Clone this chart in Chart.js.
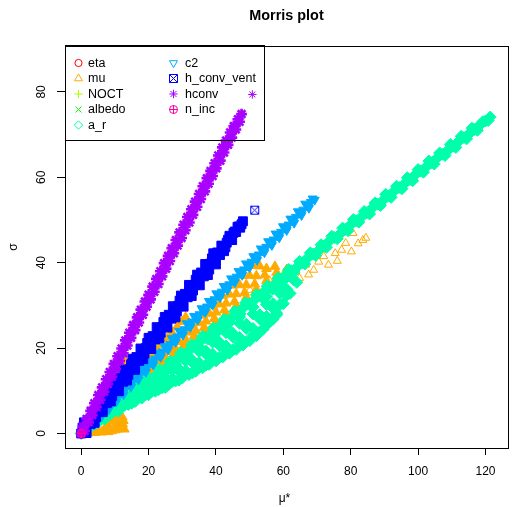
<!DOCTYPE html>
<html>
<head>
<meta charset="utf-8">
<script src="https://cdn.jsdelivr.net/npm/chart.js@4/dist/chart.umd.min.js"></script>
<style>
html, body { margin: 0; padding: 0; background: #fff; }
</style>
</head>
<body>
<canvas id="morrisChart" width="512" height="507"></canvas>
<script>
// series (same order as the R legend)
const seriesNames = ['eta', 'mu', 'NOCT', 'albedo', 'a_r', 'c2', 'h_conv_vent', 'hconv', 'n_inc'];
const seriesColors = ['#FF0000', '#FFAA00', '#AAFF00', '#00FF00', '#00FFAA', '#00AAFF', '#0000FF', '#AA00FF', '#FF00AA'];
const xTicks = [0, 20, 40, 60, 80, 100, 120];
const yTicks = [0, 20, 40, 60, 80];

// mu* / sigma values (dense clouds and the loose points around them)
const etaPts = [[0.2, 0.1], [0.5, 0.3], [0.8, 0.4], [1.1, 0.6]];
const muCloud = [
  [1, 0.2], [2, 0.1], [3, 0.3], [4, 0.2], [5, 0.4], [6, 0.3], [7, 0.5], [8, 0.4], [9, 0.6], [10, 0.8], [11, 1.0],
  [11.8, 1.5], [12.3, 2.2], [12.5, 3.0], [12.2, 3.8], [11.5, 4.3], [10.8, 4.6], [10, 4.0], [9, 3.0], [8, 2.0],
  [10.5, 2.5], [11.5, 2.0], [7, 1.2], [12.8, 1.0],
  [6, 6.8], [7.5, 8.8], [9, 10.8], [10.5, 12.7], [11.5, 14.5], [12.5, 15.6], [13.5, 16.5], [14.5, 16.0], [13, 13.5],
  [9, 12.6], [10, 14.2], [11.5, 15.8], [12.8, 16.9],
  [15, 13.3], [16.5, 14.5], [18, 15.8], [19.5, 17.0], [21, 18.3], [22.5, 19.6], [24, 20.8], [25.5, 22.2], [27, 23.6],
  [28.5, 25.0], [30, 26.2], [31, 27.2],
  [20, 14.8], [23, 17.0], [26, 19.2], [29, 21.5], [32, 23.7], [35, 25.9], [38, 28.1], [41, 30.3], [44, 32.6],
  [47, 34.8], [50, 37.0], [53, 39.2],
  [21.5, 14.6], [24.5, 16.7], [27.5, 18.7], [30.5, 20.7], [33.5, 22.8], [36.5, 24.8], [39.5, 26.9], [42.5, 28.9],
  [45.5, 30.9], [48.5, 33.0], [51.5, 35.0], [54.5, 37.1], [57.5, 39.1],
  [40, 25.2], [43, 27.1], [46, 29.0], [49, 30.9], [52, 32.8], [55, 34.6], [58, 36.5], [61, 38.4],
  [22, 15.6], [25, 17.8], [28, 19.9], [31, 22.0], [34, 24.1], [37, 26.3], [40, 28.4], [43, 30.5], [46, 32.7],
  [49, 34.8], [52, 36.9], [55, 38.6],
  [25, 16.3], [28, 18.2], [31, 20.2], [34, 22.1], [37, 24.1], [40, 26.0], [43, 28.0], [46, 29.9], [49, 31.9],
  [52, 33.8], [55, 35.8], [58, 37.7],
  [18, 13.9], [21, 16.2], [24, 18.5], [27, 20.8], [30, 23.1], [33, 25.4], [36, 27.7], [39, 30.0], [42, 32.3],
  [45, 34.7], [48, 37.0], [51, 39.3]
];
const muLoose = [
  [50.1, 33.6], [54.0, 32.8], [55.9, 35.9], [61.8, 36.7], [63.7, 37.9], [66.6, 39.5], [69.0, 38.3], [70.5, 40.2],
  [73.4, 39.5], [75.4, 42.2], [77.3, 43.0], [80.2, 42.6], [82.2, 44.5], [83.6, 45.3], [80.7, 46.9], [84.5, 45.8],
  [72.0, 41.5], [78.5, 44.6], [67.5, 37.2], [64.8, 36.4], [58.5, 35.2], [76.0, 40.4]
];
const noctPts = [[0, 0], [2, 1.5], [4, 2.9], [6, 4.4], [8, 5.8], [10, 7.3], [12, 8.8], [14, 10.2], [16, 11.7], [17.5, 12.8], [19, 13.9]];
const albedoPts = [[0.3, 0.2], [1, 0.7], [2, 1.3], [3, 2]];
const arPts = [
  [0, 0], [1.5, 1.2], [3, 1.8], [4.5, 3.2], [6, 3.7], [7.5, 5.1], [9, 5.5], [10.5, 7.0], [12, 7.4], [13.5, 8.9],
  [15, 9.2], [16.5, 10.8], [18, 11.1], [19, 12.5],
  [4, 2.2], [6, 3.4], [8, 4.6], [10, 5.7], [12, 6.3], [14, 6.8], [16, 7.5], [18, 8.3], [20, 9.1], [22, 9.9],
  [24, 10.7], [26, 11.5], [28, 12.3], [30, 13.0], [32, 13.8], [34, 14.6], [36, 15.4], [38, 16.2], [40, 17.0],
  [42, 17.9], [44, 18.8], [46, 19.7], [48, 20.7], [50, 21.7], [52, 22.9], [54, 24.4], [56, 26.2], [58, 28.2],
  [60, 30.4], [62, 32.8],
  [9, 4.8], [13, 6.7], [17, 8.6], [21, 10.6], [25, 12.6], [29, 14.6], [33, 16.6], [37, 18.6], [41, 20.6],
  [45, 22.6], [49, 24.6], [53, 26.8], [57, 29.3], [61, 32.4], [64, 35.4],
  [11, 6.1], [15, 8.3], [19, 10.5], [23, 12.6], [27, 14.8], [31, 17.0], [35, 19.2], [39, 21.4], [43, 23.6],
  [47, 25.8], [51, 28.0], [55, 30.2], [59, 32.8], [63, 36.0],
  [23, 10.3], [27, 12.2], [31, 14.0], [35, 15.8], [39, 17.6], [43, 19.4], [47, 21.2], [51, 23.0], [55, 25.4],
  [58, 27.8],
  [7, 3.4], [11, 5.2], [15, 7.1], [19, 9.0], [23, 10.9], [27, 12.8], [31, 14.7], [35, 16.6], [39, 18.6], [43, 20.5],
  [47, 22.5], [51, 24.6], [55, 27.4], [59, 30.2],
  [5, 2.6], [9, 4.7], [13, 6.8], [17, 8.9], [21, 11.0], [25, 13.0], [29, 15.1], [33, 17.2], [37, 19.3], [41, 21.4],
  [45, 23.5], [49, 25.6], [53, 27.8], [57, 30.4], [61, 33.8],
  [3, 1.7], [7, 4.1], [11, 6.4], [15, 8.7], [19, 11.0], [23, 13.4], [27, 15.7], [31, 18.0], [35, 20.3], [39, 22.6],
  [43, 25.0], [47, 27.3], [51, 29.6], [55, 32.0], [59, 34.4],
  [25, 10.8], [29, 12.5], [33, 14.2], [37, 16.0], [41, 17.8], [45, 19.6], [49, 21.5], [53, 23.8], [57, 26.8],
  [20.0, 13.0], [21.6, 12.4], [23.2, 15.0], [24.8, 14.3], [26.4, 16.9], [28.0, 16.3], [29.6, 18.9], [31.2, 18.2],
  [32.8, 20.8], [34.4, 20.2], [36.0, 22.8], [37.6, 22.1], [39.2, 24.7], [40.8, 24.1], [42.4, 26.7], [44.0, 26.0],
  [45.6, 28.6], [47.2, 28.0], [48.8, 30.6], [50.4, 29.9], [52.0, 32.5], [53.6, 31.9], [55.2, 34.5], [56.8, 33.8],
  [58.4, 36.4], [60.0, 35.8], [61.6, 38.4], [63.2, 37.8], [64.8, 40.3], [66.4, 39.7], [68.0, 42.3], [69.6, 41.7],
  [71.2, 44.2], [72.8, 43.6], [74.4, 46.2], [76.0, 45.6], [77.6, 48.1], [79.2, 47.5], [80.8, 50.1], [82.4, 49.5],
  [84.0, 52.0], [85.6, 51.4], [87.2, 54.0], [88.8, 53.4], [90.4, 56.0], [92.0, 55.3], [93.6, 57.9], [95.2, 57.3],
  [96.8, 59.9], [98.4, 59.2], [100.0, 61.8], [101.6, 61.2], [103.2, 63.8], [104.8, 63.1], [106.4, 65.7], [108.0, 65.1],
  [109.6, 67.7], [111.2, 67.0], [112.8, 69.6], [114.4, 69.0], [116.0, 71.5], [117.6, 71.0], [119.2, 73.0], [120.8, 73.3],
  [121.4, 74.1],
  [20.8, 12.7], [22.4, 13.8], [24.0, 14.6], [25.6, 15.5], [27.2, 16.6], [28.8, 17.7], [30.4, 18.5], [32.0, 19.4],
  [33.6, 20.5], [35.2, 21.6], [36.8, 22.4], [38.4, 23.3], [40.0, 24.4], [41.6, 25.5], [43.2, 26.4], [44.8, 27.2],
  [46.4, 28.3], [48.0, 29.4], [49.6, 30.3], [51.2, 31.1], [52.8, 32.2], [54.4, 33.3], [56.0, 34.2], [57.6, 35.0],
  [59.2, 36.1], [60.8, 37.2], [62.4, 38.1], [64.0, 38.9], [65.6, 40.0], [67.2, 41.1], [68.8, 42.0], [70.4, 42.8],
  [72.0, 43.9], [73.6, 45.0], [75.2, 45.9], [76.8, 46.7], [78.4, 47.8], [80.0, 48.9], [81.6, 49.8], [83.2, 50.7],
  [84.8, 51.7], [86.4, 52.8], [88.0, 53.7], [89.6, 54.6], [91.2, 55.6], [92.8, 56.7], [94.4, 57.6], [96.0, 58.5],
  [97.6, 59.5], [99.2, 60.6], [100.8, 61.5], [102.4, 62.4], [104.0, 63.4], [105.6, 64.5], [107.2, 65.4], [108.8, 66.3],
  [110.4, 67.3], [112.0, 68.4], [113.6, 69.3], [115.2, 70.2], [116.8, 71.2], [118.4, 72.3], [120.0, 73.2]
];
const c2Pts = [
  [0, 0], [0.5, 1.3], [1.6, 0.4], [2.7, 3.0], [3.8, 2.1], [4.9, 4.8], [6.0, 3.9], [7.1, 6.5], [8.2, 5.6], [9.3, 8.3],
  [10.4, 7.4], [11.5, 10.0], [12.6, 9.1], [13.7, 11.8], [14.8, 10.9], [15.9, 13.5], [17.0, 12.6], [18.1, 15.3],
  [19.2, 14.4], [20.3, 17.0], [21.4, 16.1], [22.5, 18.8], [23.6, 17.9], [24.7, 20.5], [25.8, 19.6], [26.9, 22.3],
  [28.0, 21.4], [29.1, 24.0], [30.2, 23.1], [31.3, 25.8], [32.4, 24.9], [33.5, 27.5], [34.6, 26.6], [35.7, 29.3],
  [36.8, 28.4], [37.9, 31.0], [39.0, 30.1], [40.1, 32.8], [41.2, 31.9], [42.3, 34.5], [43.4, 33.6], [44.5, 36.3],
  [45.6, 35.4], [46.7, 38.0], [47.8, 37.1], [48.9, 39.8], [50.0, 38.9], [51.1, 41.5], [52.2, 40.6], [53.3, 43.3],
  [54.4, 42.4], [55.5, 45.0], [56.6, 44.1], [57.7, 46.8], [58.8, 45.9], [59.9, 48.5], [61.0, 47.6], [62.1, 50.3],
  [63.2, 49.3], [64.3, 52.0], [65.4, 51.1], [66.5, 53.8], [67.6, 52.8], [68.7, 55.0], [69.3, 54.7],
  [1.05, 0.8], [2.15, 1.7], [3.25, 2.6], [4.35, 3.5], [5.45, 4.3], [6.55, 5.2], [7.65, 6.1], [8.75, 7.0], [9.85, 7.8],
  [10.95, 8.7], [12.05, 9.6], [13.15, 10.5], [14.25, 11.3], [15.35, 12.2], [16.45, 13.1], [17.55, 14.0], [18.65, 14.8],
  [19.75, 15.7], [20.85, 16.6], [21.95, 17.5], [23.05, 18.3], [24.15, 19.2], [25.25, 20.1], [26.35, 20.9], [27.45, 21.8],
  [28.55, 22.7], [29.65, 23.6], [30.75, 24.4], [31.85, 25.3], [32.95, 26.2], [34.05, 27.1], [35.15, 27.9], [36.25, 28.8],
  [37.35, 29.7], [38.45, 30.6], [39.55, 31.4], [40.65, 32.3], [41.75, 33.2], [42.85, 34.1], [43.95, 34.9], [45.05, 35.8],
  [46.15, 36.7], [47.25, 37.6], [48.35, 38.4], [49.45, 39.3], [50.55, 40.2], [51.65, 41.1], [52.75, 41.9], [53.85, 42.8],
  [54.95, 43.7], [56.05, 44.6], [57.15, 45.4], [58.25, 46.3], [59.35, 47.2], [60.45, 48.1], [61.55, 48.9], [62.65, 49.8],
  [63.75, 50.7], [64.85, 51.6], [65.95, 52.4], [67.05, 53.3], [68.15, 54.2]
];
const hConvVentPts = [
  [0, 0], [0.8, 2.6], [1.6, 0.1], [2.4, 2.7], [3.2, 5.1], [4.0, 2.5], [4.8, 5.1], [5.6, 7.6], [6.4, 5.0], [7.2, 7.6],
  [8.0, 10.0], [8.8, 7.5], [9.6, 10.1], [10.4, 12.5], [11.2, 9.9], [12.0, 12.6], [12.8, 15.0], [13.6, 12.4], [14.4, 15.0],
  [15.2, 17.5], [16.0, 14.9], [16.8, 17.5], [17.6, 19.9], [18.4, 17.4], [19.2, 20.0], [20.0, 22.4], [20.8, 19.8],
  [21.6, 22.5], [22.4, 24.9], [23.2, 22.3], [24.0, 24.9], [24.8, 27.3], [25.6, 24.8], [26.4, 27.4], [27.2, 29.8],
  [28.0, 27.2], [28.8, 29.9], [29.6, 32.3], [30.4, 29.7], [31.2, 32.3], [32.0, 34.8], [32.8, 32.2], [33.6, 34.8],
  [34.4, 37.2], [35.2, 34.7], [36.0, 37.3], [36.8, 39.7], [37.6, 37.1], [38.4, 39.8], [39.2, 42.2], [40.0, 39.6],
  [40.8, 42.2], [41.6, 44.0], [42.4, 42.7], [43.2, 44.7], [44.0, 46.3], [44.8, 45.3], [45.6, 47.3], [46.4, 48.4],
  [47.2, 48.2], [48.0, 49.7],
  [0.4, 1.4], [1.2, 0.5], [2.0, 3.1], [2.8, 2.2], [3.6, 4.7], [4.4, 3.8], [5.2, 6.4], [6.0, 5.5], [6.8, 8.0],
  [7.6, 7.1], [8.4, 9.7], [9.2, 8.8], [10.0, 11.3], [10.8, 10.4], [11.6, 13.0], [12.4, 12.1], [13.2, 14.6],
  [14.0, 13.7], [14.8, 16.2], [15.6, 15.4], [16.4, 17.9], [17.2, 17.0], [18.0, 19.5], [18.8, 18.7], [19.6, 21.2],
  [20.4, 20.3], [21.2, 22.8], [22.0, 22.0], [22.8, 24.5], [23.6, 23.6], [24.4, 26.1], [25.2, 25.3], [26.0, 27.8],
  [26.8, 26.9], [27.6, 29.4], [28.4, 28.6], [29.2, 31.1], [30.0, 30.2], [30.8, 32.7], [31.6, 31.9], [32.4, 34.4],
  [33.2, 33.5], [34.0, 36.0], [34.8, 35.1], [35.6, 37.7], [36.4, 36.8], [37.2, 39.3], [38.0, 38.4], [38.8, 41.0],
  [39.6, 40.1], [40.4, 42.4], [41.2, 41.8], [42.0, 43.9], [42.8, 43.6], [43.6, 45.4], [44.4, 45.4], [45.2, 47.0],
  [46.0, 47.2], [46.8, 48.5], [47.6, 49.0]
];
const hConvVentLoose = [[51.5, 52.3]];
const hconvPts = [
  [0, 0], [0.5, 1.6], [1, 0.6], [1.6, 3.4], [2.2, 2.6], [2.8, 5.3], [3.3, 4.3], [3.9, 7.1], [4.5, 6.2], [5.1, 9.0],
  [5.6, 7.9], [6.2, 10.8], [6.8, 9.8], [7.4, 12.7], [7.9, 11.6], [8.5, 14.4], [9.1, 13.3], [9.7, 16.3], [10.2, 15.1],
  [10.8, 18.1], [11.4, 17.0], [12, 19.9], [12.5, 18.8], [13.1, 21.8], [13.7, 20.6], [14.3, 23.6], [14.8, 22.4],
  [15.4, 25.4], [16, 24.2], [16.6, 27.2], [17.1, 26.0], [17.7, 29.0], [18.3, 27.8], [18.9, 30.9], [19.4, 29.7],
  [20, 32.5], [20.6, 31.4], [21.2, 34.4], [21.7, 33.2], [22.3, 36.2], [22.9, 35.0], [23.5, 38.0], [24, 36.8],
  [24.6, 39.9], [25.2, 38.6], [25.8, 41.6], [26.3, 40.4], [26.9, 43.4], [27.5, 42.2], [28.1, 45.3], [28.6, 44.0],
  [29.2, 47.1], [29.8, 45.8], [30.4, 48.9], [30.9, 47.6], [31.5, 50.7], [32.1, 49.4], [32.7, 52.5], [33.2, 51.2],
  [33.8, 54.3], [34.4, 53.1], [35, 56.1], [35.5, 54.9], [36.1, 57.9], [36.7, 56.7], [37.3, 59.8], [37.8, 58.5],
  [38.4, 61.5], [39, 60.3], [39.6, 63.3], [40.1, 62.1], [40.7, 65.1], [41.3, 63.9], [41.9, 67.0], [42.4, 65.8],
  [43, 68.6], [43.6, 67.6], [44.2, 70.5], [44.7, 69.3], [45.3, 72.0], [45.9, 71.2], [46.5, 73.6], [47, 73.0],
  [47.6, 74.8]
];
const hconvLoose = [[50.8, 79.4]];
const nIncPts = [[0, 0], [0.1, 0.1]];

// R pch-like symbols drawn to small canvases
function symbolCanvas(kind, color) {
    const c = document.createElement('canvas');
    c.width = 11; c.height = 11;
    const g = c.getContext('2d');
    g.strokeStyle = color;
    g.lineWidth = 1;
    g.beginPath();
    if (kind === 'boxX') {
        g.rect(1.5, 1.5, 8, 8);
        g.moveTo(1.5, 1.5); g.lineTo(9.5, 9.5);
        g.moveTo(9.5, 1.5); g.lineTo(1.5, 9.5);
    } else {
        g.arc(5.5, 5.5, 4, 0, Math.PI * 2);
        g.moveTo(5.5, 1); g.lineTo(5.5, 10);
        g.moveTo(1, 5.5); g.lineTo(10, 5.5);
    }
    g.stroke();
    return c;
}

const symbols = [
    { pointStyle: 'circle', radius: 3.6, rotation: 0 },
    { pointStyle: 'triangle', radius: 4.6, rotation: 0 },
    { pointStyle: 'cross', radius: 4.2, rotation: 0 },
    { pointStyle: 'crossRot', radius: 4.2, rotation: 0 },
    { pointStyle: 'rectRot', radius: 4.2, rotation: 0 },
    { pointStyle: 'triangle', radius: 4.6, rotation: 180 },
    { pointStyle: symbolCanvas('boxX', seriesColors[6]), radius: 4, rotation: 0 },
    { pointStyle: 'star', radius: 4.2, rotation: 0 },
    { pointStyle: symbolCanvas('circlePlus', seriesColors[8]), radius: 4, rotation: 0 }
];

// one entry per drawn layer: series index, values, and how the overlap looks
const layers = [
    { s: 0, pts: etaPts },
    { s: 1, pts: muCloud, fill: true, r: 5.6 },
    { s: 1, pts: muLoose },
    { s: 2, pts: noctPts },
    { s: 3, pts: albedoPts },
    { s: 4, pts: arPts, fill: true, r: 6 },
    { s: 5, pts: c2Pts, fill: true, r: 5.2 },
    { s: 6, pts: hConvVentPts, fill: true, r: 6.3, style: 'rect' },
    { s: 6, pts: hConvVentLoose },
    { s: 7, pts: hconvPts, r: 5.4, bw: 2.6 },
    { s: 7, pts: hconvLoose },
    { s: 8, pts: nIncPts }
];

const datasets = layers.map((l, i) => ({
    label: seriesNames[l.s],
    data: l.pts.map(p => ({ x: p[0], y: p[1] })),
    showLine: false,
    borderColor: seriesColors[l.s],
    backgroundColor: l.fill ? seriesColors[l.s] : 'rgba(0,0,0,0)',
    borderWidth: l.bw || 1,
    pointStyle: l.style || symbols[l.s].pointStyle,
    pointRadius: l.r || symbols[l.s].radius,
    pointRotation: symbols[l.s].rotation,
    order: layers.length - i
}));

const fontFamily = '"Liberation Sans", Arial, Helvetica, sans-serif';

// box, title and the two-column legend like R's legend()
const morrisDecor = {
    id: 'morrisDecor',
    afterDraw(chart) {
        const ctx = chart.ctx;
        const a = chart.chartArea;
        ctx.save();
        ctx.strokeStyle = '#000';
        ctx.lineWidth = 1;
        ctx.strokeRect(Math.round(a.left) + 0.5, Math.round(a.top) + 0.5, a.right - a.left + 4, a.bottom - a.top);

        ctx.fillStyle = '#000';
        ctx.font = 'bold 14.4px ' + fontFamily;
        ctx.textAlign = 'center';
        ctx.textBaseline = 'middle';
        ctx.fillText('Morris plot', (a.left + a.right + 4) / 2, 16);

        // legend box (transparent, points show through as in R)
        const lx = a.left, ly = a.top - 1, lw = 199, lh = 95;
        ctx.strokeRect(lx + 0.5, ly + 0.5, lw, lh);
        ctx.font = '12.5px ' + fontFamily;
        ctx.textAlign = 'left';
        seriesNames.forEach((name, i) => {
            const col = i < 5 ? 0 : 1;
            const row = i < 5 ? i : i - 5;
            const sx = col === 0 ? 78.5 : 173.5;
            const sy = 63 + row * 15.5;
            ctx.strokeStyle = seriesColors[i];
            ctx.fillStyle = 'rgba(0,0,0,0)';
            ctx.lineWidth = 1;
            Chart.helpers.drawPoint(ctx, { pointStyle: symbols[i].pointStyle, radius: symbols[i].radius, rotation: symbols[i].rotation, borderWidth: 1 }, sx, sy);
            ctx.fillStyle = '#000';
            ctx.fillText(name, col === 0 ? 88 : 185, sy + 0.5);
        });
        ctx.restore();
    }
};

const ctx = document.getElementById('morrisChart').getContext('2d');
new Chart(ctx, {
    type: 'scatter',
    data: { datasets: datasets },
    options: {
        responsive: false,
        animation: false,
        layout: { padding: { top: 46, right: 0, left: 0, bottom: 0 } },
        plugins: {
            legend: { display: false },
            tooltip: { enabled: false },
            title: { display: false }
        },
        scales: {
            x: {
                type: 'linear',
                min: -4.81,
                max: 125.5,
                afterBuildTicks: s => { s.ticks = xTicks.map(v => ({ value: v })); },
                afterFit: s => { s.height = 59; },
                grid: { drawOnChartArea: false, tickLength: 7, color: '#000' },
                border: { color: '#000' },
                ticks: { color: '#000', font: { family: fontFamily, size: 12 }, padding: 9, maxRotation: 0 },
                title: { display: true, text: 'μ*', color: '#000', font: { family: fontFamily, size: 12 }, padding: { top: 0, bottom: 1 } }
            },
            y: {
                type: 'linear',
                min: -3.4,
                max: 90.75,
                afterBuildTicks: s => { s.ticks = yTicks.map(v => ({ value: v })); },
                afterFit: s => { s.width = 65; },
                grid: { drawOnChartArea: false, tickLength: 8, color: '#000' },
                border: { color: '#000' },
                ticks: { color: '#000', font: { family: fontFamily, size: 12 }, padding: 9, minRotation: 90, maxRotation: 90, crossAlign: 'center' },
                title: { display: true, text: 'σ', color: '#000', font: { family: fontFamily, size: 12 }, padding: { top: 6, bottom: 0 } }
            }
        }
    },
    plugins: [morrisDecor]
});
</script>
</body>
</html>
